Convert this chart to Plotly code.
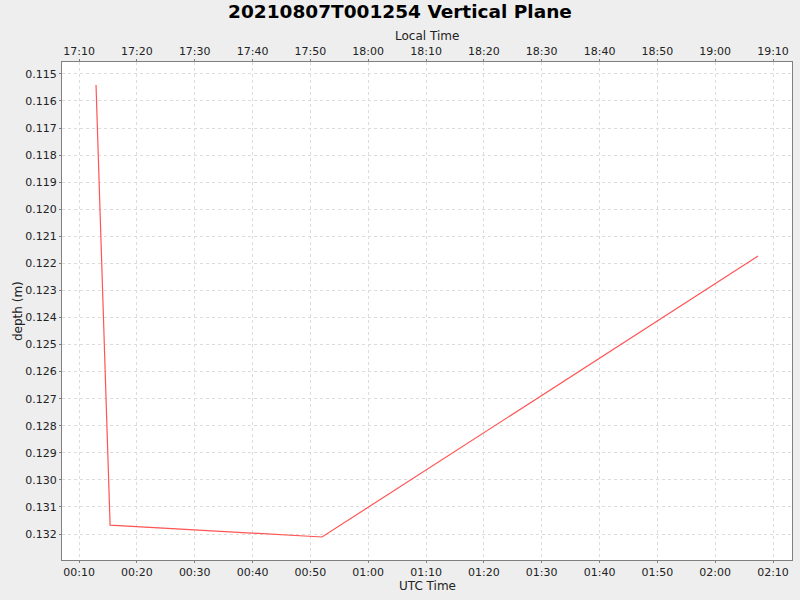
import plotly.graph_objects as go
import pandas as pd

utc_times = ["2021-08-07 00:12:56", "2021-08-07 00:15:22", "2021-08-07 00:52:01", "2021-08-07 02:07:25"]
depths = [0.11541, 0.13167, 0.13211, 0.12173]
local_offset_hours = -7

utc = pd.to_datetime(utc_times)
local = utc + pd.Timedelta(hours=local_offset_hours)

x_range_utc = [pd.Timestamp("2021-08-07 00:07:03"), pd.Timestamp("2021-08-07 02:13:17")]
x_range_local = [t + pd.Timedelta(hours=local_offset_hours) for t in x_range_utc]

W, H = 800, 600
ML, MR, MT, MB = 62, 8, 62, 40
PW, PH = W - ML - MR, H - MT - MB

font = "DejaVu Sans"
grid = "#dcdcdc"
axcol = "#808080"
txt = "#222222"

fig = go.Figure()
fig.add_trace(go.Scatter(x=utc, y=depths, mode="lines",
                         line=dict(color="#FF5555", width=1.2), xaxis="x", yaxis="y",
                         showlegend=False))
fig.add_trace(go.Scatter(x=local, y=depths, mode="lines",
                         line=dict(color="rgba(0,0,0,0)", width=0), xaxis="x2", yaxis="y",
                         showlegend=False, hoverinfo="skip"))

common = dict(showgrid=True, gridcolor=grid, griddash="3px,3px", gridwidth=1,
              showline=True, linecolor=axcol, linewidth=1,
              ticks="outside", ticklen=2, tickcolor=axcol,
              tickfont=dict(family=font, size=11, color=txt),
              zeroline=False, automargin=False)

fig.update_layout(
    width=W, height=H,
    paper_bgcolor="#EEEEEE", plot_bgcolor="white",
    margin=dict(l=ML, r=MR, t=MT, b=MB),
    title=dict(text="<b>20210807T001254 Vertical Plane</b>", x=0.5, xanchor="center",
               y=1 - 12 / H, yref="container", yanchor="middle",
               font=dict(family=font, size=18.5, color="black")),
    xaxis=dict(type="date", range=x_range_utc, tickformat="%H:%M", dtick=600000,
               tick0="2021-08-07 00:00:00", mirror=False, **common),
    xaxis2=dict(type="date", range=x_range_local, tickformat="%H:%M", dtick=600000,
                tick0="2021-08-06 17:00:00", overlaying="x", side="top", anchor="y",
                **common),
    yaxis=dict(range=[0.13296, 0.11456], tickformat=".3f", dtick=0.001, tick0=0.115,
               mirror=True, **common),
)


def py2paper(py):
    return (H - MB - py) / PH


fig.add_annotation(text="Local Time", showarrow=False, x=0.5, xref="paper", xanchor="center",
                   y=py2paper(36), yref="paper", yanchor="middle",
                   font=dict(family=font, size=12, color=txt))
fig.add_annotation(text="UTC Time", showarrow=False, x=0.5, xref="paper", xanchor="center",
                   y=py2paper(586), yref="paper", yanchor="middle",
                   font=dict(family=font, size=12, color=txt))
fig.add_annotation(text="depth (m)", showarrow=False, textangle=-90,
                   x=(18 - ML) / PW, xref="paper", xanchor="center",
                   y=0.5, yref="paper", yanchor="middle",
                   font=dict(family=font, size=12, color=txt))

fig.write_html("out.html", config={"displayModeBar": False},
               post_script="document.body.style.margin='0';document.body.style.background='#EEEEEE';")
